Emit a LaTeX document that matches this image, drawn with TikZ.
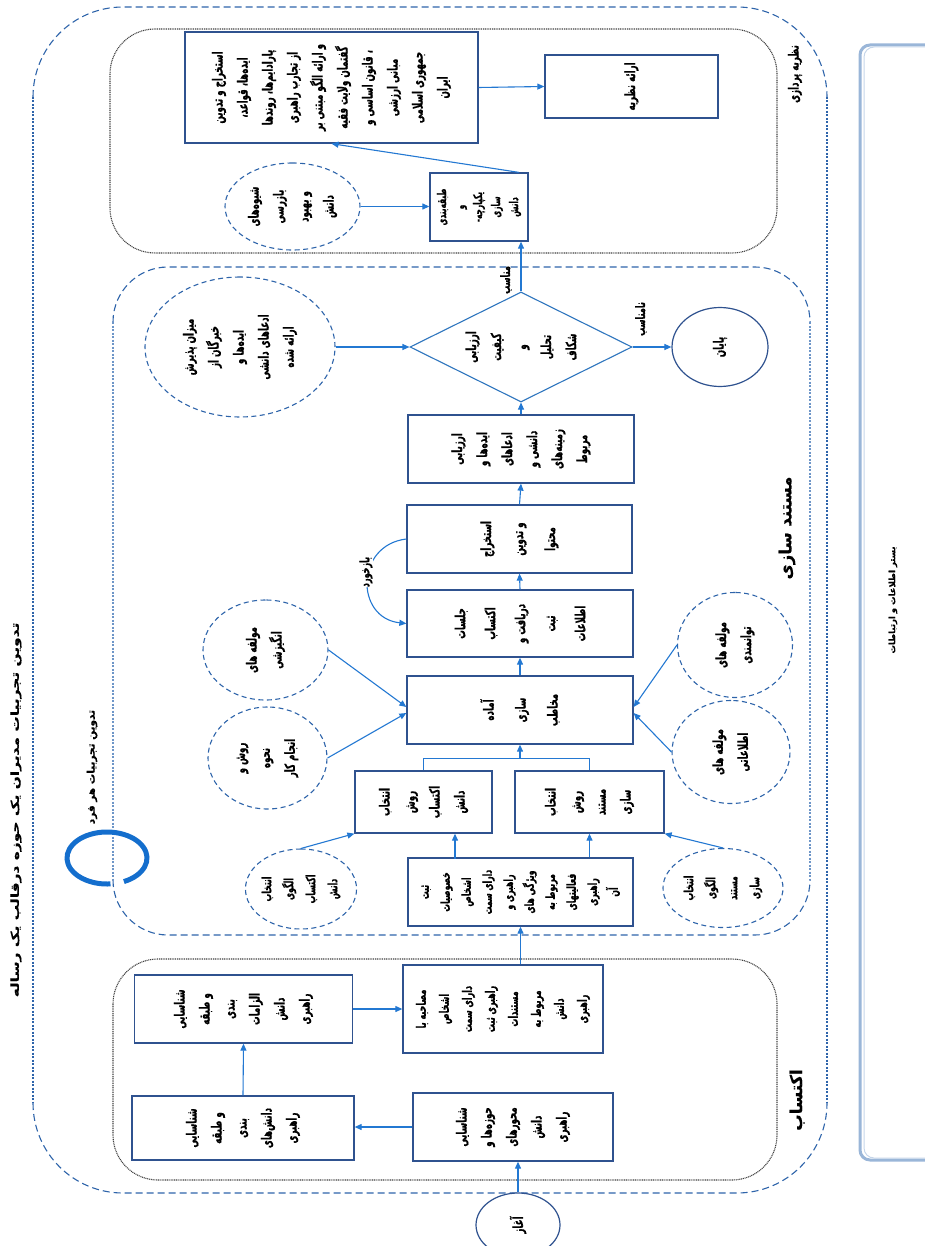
\documentclass[tikz,border=0pt]{standalone}
\usepackage{fontspec}
\usetikzlibrary{shapes.geometric,arrows.meta,calc}
\TeXXeTstate=1
\newfontfamily\fa[Script=Arabic,FakeStretch=0.62,FakeBold=0.6]{DejaVu Sans}
\newfontfamily\faw[Script=Arabic,FakeStretch=1.0,FakeBold=0.4]{DejaVu Sans}
\newfontfamily\fawide[Script=Arabic,FakeStretch=1.4,FakeBold=0.4]{DejaVu Sans}
\newcommand\RL[1]{\beginR#1\endR}
\definecolor{boxblue}{RGB}{47,82,143}
\definecolor{arrblue}{RGB}{35,120,210}
\definecolor{dashblue}{RGB}{46,100,170}
\definecolor{dotblue}{RGB}{110,150,200}
\definecolor{ringblue}{RGB}{20,110,205}
\definecolor{dmblue}{RGB}{46,117,190}
\begin{document}
\begin{tikzpicture}[x=1pt,y=-1pt,
  txt/.style={font=\fa\bfseries\fontsize{14}{25}\selectfont},
  box/.style={draw=boxblue, line width=1.3pt, fill=white, rotate=90, align=center, inner sep=1pt, txt},
  dcirc/.style={ellipse, draw=dashblue, dash pattern=on 5pt off 3.5pt, line width=1.1pt, fill=white, rotate=90, align=center, inner sep=0pt, txt},
  scirc/.style={ellipse, draw=boxblue, line width=1.2pt, fill=white, rotate=90, align=center, inner sep=0pt, txt},
  arr/.style={draw=arrblue, line width=1.1pt, -{Triangle[length=7pt,width=6pt]}},
  lbl/.style={rotate=90, txt, inner sep=0pt},
  regdash/.style={draw=dashblue, line width=1.1pt, dash pattern=on 7pt off 4pt},
  regdot/.style={draw=dotblue, line width=2pt, dash pattern=on 2pt off 1.5pt},
  blkdot/.style={draw=black!75, line width=1.1pt, dash pattern=on 1pt off 0.8pt}
]
\useasboundingbox (0,0) rectangle (924,1246);

% ---------- region outlines ----------
\draw[regdash, rounded corners=90pt] (33,97) -- (33,7) -- (827,7) -- (827,97);
\draw[regdash, rounded corners=90pt] (33,1103) -- (33,1193) -- (827,1193) -- (827,1103);
\draw[regdot, draw=dashblue] (33,97) -- (33,1103);
\draw[regdot, draw=dashblue] (827,97) -- (827,1103);
\draw[blkdot, rounded corners=45pt] (110,29) rectangle (777,253);
\draw[regdash, rounded corners=55pt] (113,322) -- (113,267) -- (810,267) -- (810,322);
\draw[regdash, rounded corners=55pt] (113,880) -- (113,935) -- (810,935) -- (810,880);
\draw[regdot] (113,322) -- (113,880);
\draw[regdot] (810,322) -- (810,880);
\draw[blkdot, rounded corners=45pt] (113,959) rectangle (777,1180);
\draw[dotblue!70, line width=3pt, rounded corners=10pt] (860,45) rectangle (960,1160);
\draw[dotblue!40!white, line width=1pt, rounded corners=10pt] (864,47) rectangle (960,1158);

% ---------- labels ----------
\node[lbl, font=\fa\bfseries\fontsize{14}{16}\selectfont] (lT) at (795,74) {\RL{نظریه پردازی}};
\node[lbl, font=\faw\bfseries\fontsize{16.5}{18}\selectfont] (lM) at (787,528) {\RL{مستند سازی}};
\node[lbl, font=\faw\bfseries\fontsize{16.5}{18}\selectfont] (lA) at (797,1100) {\RL{اکتساب}};
\node[lbl, font=\faw\bfseries\fontsize{8.5}{10}\selectfont] (lB) at (893,600) {\RL{بستر اطلاعات و ارتباطات}};
\node[lbl, font=\fawide\bfseries\fontsize{11}{12}\selectfont] (lR) at (16,810) {\RL{تدوین تجربیات مدیران یک حوزه درقالب یک رساله}};
\node[lbl, font=\faw\bfseries\fontsize{10.5}{12}\selectfont] (lF) at (92,767) {\RL{تدوین تجربیات هر فرد}};
\coordinate (rc) at (107,858);
\draw[ringblue, line width=5pt] ([shift={(-65:40pt and 26pt)}]rc) arc[start angle=-65, end angle=275, x radius=40pt, y radius=26pt];

% ---------- theory ----------
\node[box, minimum width=111pt, minimum height=293pt] (T1) at (331.5,87.5)
 {\RL{استخراج و تدوین}\\\RL{ایده‌ها، قواعد،}\\\RL{پارادایم‌ها، روندها}\\\RL{از تجارب راهبری}\\\RL{و ارائه الگو مبتنی بر}\\\RL{گفتمان ولایت فقیه}\\\RL{، قانون اساسی و}\\\RL{مبانی ارزشی}\\\RL{جمهوری اسلامی}\\\RL{ایران}};
\node[box, minimum width=63pt, minimum height=173pt] (T2) at (631.5,86.5) {\RL{ارائه نظریه}};
\node[box, minimum width=68pt, minimum height=98pt, font=\fa\bfseries\fontsize{12}{18}\selectfont] (T3) at (479,207)
 {\RL{طبقه‌بندی}\\\RL{و}\\\RL{یکپارچه-}\\\RL{سازی}\\\RL{دانش}};
\node[dcirc, minimum width=87pt, minimum height=135pt] (T4) at (292.5,206.5)
 {\RL{شیوه‌های}\\\RL{بازرسی}\\\RL{و بهبود}\\\RL{دانش}};

% ---------- documentation ----------
\node[diamond, draw=dmblue, line width=1.1pt, fill=white, rotate=90, shape aspect=0.5, inner sep=0pt,
      minimum width=110pt, minimum height=222pt, align=center, txt] (D) at (521,347)
 {\RL{ارزیابی}\\\RL{کیفیت}\\\RL{و}\\\RL{تحلیل}\\\RL{شکاف}};
\node[scirc, minimum width=79pt, minimum height=96pt] (E) at (720,347) {\RL{پایان}};
\node[dcirc, minimum width=140pt, minimum height=190pt] (M1) at (240,347)
 {\RL{میزان پذیرش}\\\RL{خبرگان از}\\\RL{ایده‌ها و}\\\RL{ادعاهای دانشی}\\\RL{ارائه شده}};
\node[box, minimum width=68pt, minimum height=226pt] (B1) at (521,449)
 {\RL{ارزیابی}\\\RL{ایده‌ها و}\\\RL{ادعاهای}\\\RL{دانشی و}\\\RL{زمینه‌های}\\\RL{مربوط}};
\node[box, minimum width=68pt, minimum height=225pt, font=\fa\bfseries\fontsize{14}{32}\selectfont] (B2) at (519.5,539)
 {\RL{استخراج}\\\RL{و تدوین}\\\RL{محتوا}};
\node[box, minimum width=67pt, minimum height=226pt, font=\fa\bfseries\fontsize{14}{30}\selectfont] (B3) at (520,623.5)
 {\RL{جلسات}\\\RL{اکتساب}\\\RL{دریافت و}\\\RL{ثبت}\\\RL{اطلاعات}};
\node[box, minimum width=68pt, minimum height=226pt, font=\fa\bfseries\fontsize{14}{32}\selectfont] (B4) at (520,710)
 {\RL{آماده}\\\RL{سازی}\\\RL{مخاطب}};
\node[dcirc, minimum width=100pt, minimum height=125pt] (L1) at (265.5,650) {\RL{مولفه های}\\\RL{انگیزشی}};
\node[dcirc, minimum width=102pt, minimum height=119pt] (L2) at (267.5,758) {\RL{روش و}\\\RL{نحوه}\\\RL{انجام کار}};
\node[dcirc, minimum width=105pt, minimum height=115pt] (R1) at (735,645) {\RL{مولفه های}\\\RL{توانمندی}};
\node[dcirc, minimum width=103pt, minimum height=118pt] (R2) at (731,752) {\RL{مولفه های}\\\RL{اطلاعاتی}};
\node[box, minimum width=62pt, minimum height=137pt] (S1) at (423.5,802)
 {\RL{انتخاب}\\\RL{روش}\\\RL{اکتساب}\\\RL{دانش}};
\node[box, minimum width=62pt, minimum height=149pt] (S2) at (589.5,802)
 {\RL{انتخاب}\\\RL{روش}\\\RL{مستند}\\\RL{سازی}};
\node[box, minimum width=68pt, minimum height=225pt, font=\fa\bfseries\fontsize{12.5}{21}\selectfont] (S3) at (520.5,892)
 {\RL{ثبت}\\\RL{خصوصیات}\\\RL{اشخاص}\\\RL{دارای سمت}\\\RL{راهبری و}\\\RL{ویژگی های}\\\RL{مربوط به}\\\RL{فعالیتهای}\\\RL{راهبری}\\\RL{آن}};
\node[dcirc, minimum width=80pt, minimum height=110pt, font=\fa\bfseries\fontsize{12.5}{22}\selectfont] (E1) at (301,889)
 {\RL{انتخاب}\\\RL{الگوی}\\\RL{اکتساب}\\\RL{دانش}};
\node[dcirc, minimum width=79pt, minimum height=120pt, font=\fa\bfseries\fontsize{12.5}{22}\selectfont] (E2) at (723,888)
 {\RL{انتخاب}\\\RL{الگوی}\\\RL{مستند}\\\RL{سازی}};

% ---------- acquisition ----------
\node[box, minimum width=68pt, minimum height=200pt] (A1) at (513,1127)
 {\RL{شناسایی}\\\RL{حوزه‌ها و}\\\RL{محورهای}\\\RL{دانش}\\\RL{راهبری}};
\node[box, minimum width=64pt, minimum height=222pt] (A2) at (243,1128)
 {\RL{شناسایی}\\\RL{و طبقه}\\\RL{بندی}\\\RL{دانش‌های}\\\RL{راهبری}};
\node[box, minimum width=68pt, minimum height=218pt] (A3) at (243.5,1009)
 {\RL{شناسایی}\\\RL{و طبقه}\\\RL{بندی}\\\RL{الزامات}\\\RL{دانش}\\\RL{راهبری}};
\node[box, minimum width=88pt, minimum height=200pt, font=\fa\bfseries\fontsize{13}{23}\selectfont] (A4) at (503,1009)
 {\RL{مصاحبه با}\\\RL{اشخاص}\\\RL{دارای سمت}\\\RL{راهبری ثبت}\\\RL{مستندات}\\\RL{مربوط به}\\\RL{دانش}\\\RL{راهبری}};
\node[scirc, minimum width=64pt, minimum height=84pt] (St) at (518,1225) {\RL{آغاز}};

% ---------- connectors ----------
\draw[arr] (St.east) -- (St.east |- A1.west);
\draw[arr] (A1.north) -- (A1.north -| A2.south);
\draw[arr] (A2.east) -- (A3.west);
\draw[arr] (A3.south) -- (A3.south -| A4.north);
\draw[arr] (S3.west |- A4.east) -- (S3.west);
\draw[arr] ($(S1.west)+(31.5,25)$) -- ($(S1.west)+(31.5,0)$);
\draw[arr] (S2.west |- S3.east) -- (S2.west);
\draw[arr] (E1.east) -- (S1.north west);
\draw[arr] (E2.east) -- (S2.south west);
\coordinate (jn) at ($(B4.west)+(0,14)$);
\draw[draw=arrblue, line width=1.1pt] (S1.east) |- (jn) -| (S2.east);
\draw[arr] (jn) -- (B4.west);
\draw[arr] (L1.south) -- ($(B4.north)+(0,-3)$);
\draw[arr] (L2.south) -- ($(B4.north)+(0,3)$);
\draw[arr] (R1.north) -- ($(B4.south)+(0,-3)$);
\draw[arr] (R2.north) -- ($(B4.south)+(0,3)$);
\draw[arr] (B4.east) -- (B3.west);
\draw[arr] (B3.east) -- (B2.west);
\draw[arr] (B2.east) -- (B1.west);
\draw[arr] (B1.east) -- (D.west);
\draw[arr] (B2.north) .. controls (355,545) and (355,618) .. (B3.north);
\node[lbl, font=\fa\bfseries\fontsize{13}{14}\selectfont, fill=white] (fb) at (366,572) {\RL{بازخورد}};
\draw[arr] (M1.south) -- (D.north);
\draw[arr] (D.south) -- (E.north);
\node[lbl, font=\fa\bfseries\fontsize{13}{14}\selectfont] (nm) at (641,319) {\RL{نامناسب}};
\draw[arr] (D.east) -- (D.east |- T3.west);
\node[lbl, font=\fa\bfseries\fontsize{13}{14}\selectfont] (ok) at (506,280) {\RL{مناسب}};
\draw[arr] (T4.south) -- (T4.south -| T3.north);
\draw[arr] ($(T3.east)!0.8!(T3.south east)$) -- (T1.west);
\draw[arr] (T1.south) -- (T2.north);
\end{tikzpicture}
\end{document}
